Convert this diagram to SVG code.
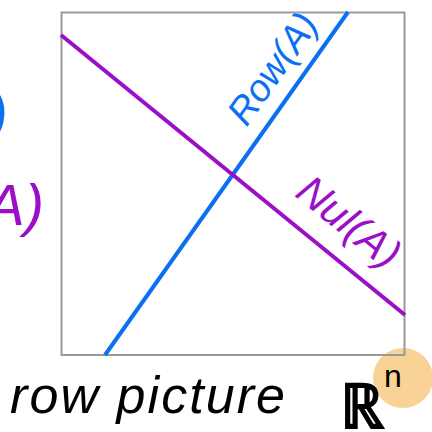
<svg xmlns="http://www.w3.org/2000/svg" width="432" height="432" viewBox="0 0 432 432">
<style>
.hand{font-family:"Liberation Sans",sans-serif;font-style:italic}
.blue{fill:#0a6ff0}
.purple{fill:#9b0fc6}
.black{fill:#000}
</style>
<rect width="432" height="432" fill="#fff"/>
<g id="highlight"><circle cx="403" cy="378" r="30" fill="#f9d395"/></g>
<g id="frame"><rect x="61.5" y="12.5" width="343" height="342.5" fill="none" stroke="#999" stroke-width="2"/></g>
<g id="connectors">
<line x1="105" y1="355" x2="348" y2="12" stroke="#0a6ff0" stroke-width="4"/>
<line x1="61" y1="35" x2="405" y2="315" stroke="#9b0fc6" stroke-width="4"/>
</g>
<g id="row-label"><text class="hand blue" font-size="38" text-anchor="middle" transform="translate(283,76) rotate(-54.7)">Row(A)</text></g>
<g id="null-label"><text class="hand purple" font-size="42" text-anchor="middle" transform="translate(340,233) rotate(39)">Nul(A)</text></g>
<g id="left-fragments">
<text class="hand blue" font-size="60" transform="translate(-12,135)">)</text>
<text class="hand purple" font-size="58" transform="translate(-14,225)">A)</text>
</g>
<g id="bottom-label">
<text class="hand black" font-size="52" x="10" y="413" textLength="275" lengthAdjust="spacing">row picture</text>
<text class="black" font-family="Liberation Serif,serif" font-weight="bold" font-size="62" x="340" y="428">ℝ</text>
<text class="black" font-family="Liberation Sans,sans-serif" font-size="32" x="384" y="387">n</text>
</g>
</svg>
